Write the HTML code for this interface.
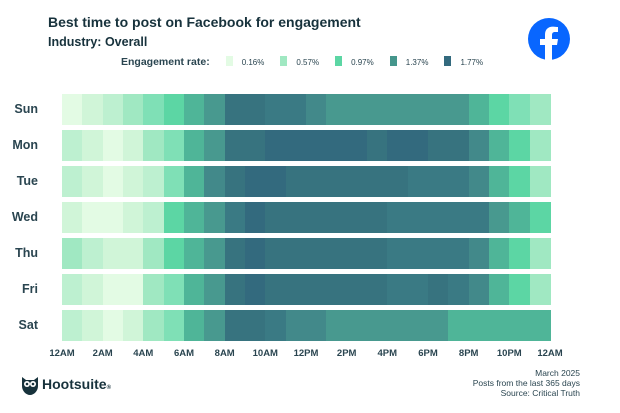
<!DOCTYPE html>
<html><head><meta charset="utf-8"><style>
body{margin:0;background:#fff;font-family:"Liberation Sans",sans-serif;color:#1f3a44}
#w{position:relative;width:620px;height:413px;overflow:hidden}
.a{position:absolute;white-space:nowrap}
.c{position:absolute;height:31px}
.d{position:absolute;width:38px;text-align:right;font-size:12.5px;font-weight:bold;color:#2a4550}
.x{position:absolute;font-size:9.5px;font-weight:bold;color:#2a4550;width:40px;text-align:center;top:348px}
.lg{display:inline-block;width:7px;height:10px;vertical-align:-1px;margin:0 9px 0 16px}
</style></head><body><div id="w">
<div class="a" style="left:48px;top:14px;font-size:14px;font-weight:bold;color:#17323c">Best time to post on Facebook for engagement</div>
<div class="a" style="left:48px;top:35px;font-size:12.5px;font-weight:bold;color:#17323c">Industry: Overall</div>
<div class="a" style="left:121px;top:56px;font-size:10.5px;font-weight:bold;color:#2a4550">Engagement rate:<span class="lg" style="background:#e3fbe4"></span><span style="font-size:8px;font-weight:normal">0.16%</span><span class="lg" style="background:#a0e8c2"></span><span style="font-size:8px;font-weight:normal">0.57%</span><span class="lg" style="background:#5cd6a4"></span><span style="font-size:8px;font-weight:normal">0.97%</span><span class="lg" style="background:#45968c"></span><span style="font-size:8px;font-weight:normal">1.37%</span><span class="lg" style="background:#336a7e"></span><span style="font-size:8px;font-weight:normal">1.77%</span></div>
<svg class="a" style="left:527px;top:17px" width="44" height="44" viewBox="0 0 44 44"><circle cx="22" cy="22" r="21" fill="#0866ff"/><path d="M25 44V28h5l1-6h-6v-4c0-2 1-3 3-3h3v-5c-1 0-3-.4-5-.4-5 0-8 3-8 8v4.4h-5v6h5v16z" fill="#fff"/></svg>
<div id="g"></div>
<svg class="a" style="left:20px;top:374px" width="20" height="22" viewBox="0 0 20 22"><path d="M2 3l4 3h8l4-3v9c0 5-4 9-8 9s-8-4-8-9z" fill="#17323c"/><circle cx="7" cy="10" r="3" fill="#fff"/><circle cx="13" cy="10" r="3" fill="#fff"/><circle cx="7" cy="10" r="1.3" fill="#17323c"/><circle cx="13" cy="10" r="1.3" fill="#17323c"/></svg>
<div class="a" style="left:42px;top:376px;font-size:14px;font-weight:bold;color:#17323c">Hootsuite<span style="font-size:6px">®</span></div>
<div class="a" style="right:40px;top:368px;font-size:8.5px;text-align:right;line-height:10px;color:#2a4550">March 2025<br>Posts from the last 365 days<br>Source: Critical Truth</div>
</div>
<script>
var P=["#e3fbe4","#d0f5d8","#bdf0d0","#a0e8c2","#7fe0b6","#5cd6a4","#4fb598","#48998f","#42898a","#3a7a84","#37737f","#336a7e"];
var D=[["Sun",[0,1,2,3,4,5,6,7,10,10,9,9,8,7,7,7,7,7,7,7,6,5,4,3]],
["Mon",[2,1,0,1,3,4,6,7,10,10,11,11,11,11,11,10,11,11,10,10,8,6,5,3]],
["Tue",[2,1,0,1,2,4,6,8,10,11,11,10,10,10,10,10,10,9,9,9,8,6,5,3]],
["Wed",[1,0,0,1,2,5,6,7,9,11,10,10,10,10,10,10,9,9,9,9,9,7,6,5]],
["Thu",[3,2,1,1,3,5,6,7,10,11,10,10,10,10,10,10,9,9,9,9,8,6,5,3]],
["Fri",[2,1,0,0,3,4,6,7,10,11,10,10,10,10,10,10,9,9,10,9,8,6,5,3]],
["Sat",[2,1,0,1,3,4,6,7,10,10,9,8,8,7,7,7,7,7,7,6,6,6,6,6]]];
var h="",w=488/24;
D.forEach(function(r,i){var y=94+i*36;h+='<div class="d" style="left:0;top:'+(y+8)+'px">'+r[0]+'</div>';
r[1].forEach(function(v,j){var x=62+j*w;h+='<div class="c" style="left:'+x.toFixed(2)+'px;top:'+y+'px;width:'+(w+0.6).toFixed(2)+'px;background:'+P[v]+'"></div>';});});
["12AM","2AM","4AM","6AM","8AM","10AM","12PM","2PM","4PM","6PM","8PM","10PM","12AM"].forEach(function(t,k){h+='<div class="x" style="left:'+(62+k*2*w-20).toFixed(1)+'px">'+t+'</div>';});
document.getElementById("g").innerHTML=h;
</script></body></html>
